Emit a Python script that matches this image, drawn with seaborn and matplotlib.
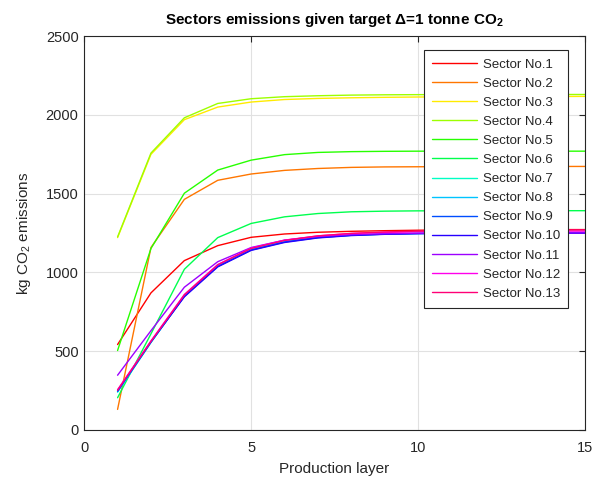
import colorsys
import numpy as np
import pandas as pd
import matplotlib
matplotlib.use("Agg")
import matplotlib.pyplot as plt
import seaborn as sns

layers = list(range(1, 16))
sector_names = [f"Sector No.{i}" for i in range(1, 14)]

s1 = [542, 870, 1075, 1170, 1223, 1244, 1255, 1261, 1265, 1268, 1270, 1271, 1272, 1272, 1272]
s2 = [130, 1158, 1464, 1585, 1625, 1648, 1660, 1667, 1670, 1671, 1672, 1672, 1673, 1673, 1673]
s3 = [1221, 1750, 1970, 2050, 2082, 2098, 2105, 2109, 2112, 2114, 2115, 2116, 2117, 2117, 2118]
s4 = [1225, 1758, 1982, 2073, 2103, 2116, 2122, 2126, 2128, 2129, 2129, 2130, 2130, 2130, 2130]
s5 = [504, 1152, 1503, 1650, 1713, 1748, 1762, 1767, 1769, 1770, 1770, 1770, 1770, 1770, 1770]
s6 = [204, 610, 1020, 1221, 1311, 1353, 1374, 1385, 1389, 1391, 1391, 1392, 1392, 1392, 1392]
s7 = [240, 555, 850, 1040, 1145, 1195, 1222, 1236, 1243, 1247, 1249, 1250, 1251, 1251, 1251]
s8 = [242, 557, 852, 1042, 1147, 1197, 1224, 1238, 1245, 1249, 1251, 1252, 1253, 1253, 1253]
s9 = [245, 558, 848, 1038, 1142, 1193, 1221, 1236, 1243, 1247, 1249, 1250, 1250, 1250, 1250]
s10 = [250, 560, 845, 1035, 1140, 1190, 1219, 1234, 1242, 1246, 1248, 1249, 1249, 1249, 1249]
s11 = [347, 630, 906, 1068, 1158, 1205, 1228, 1240, 1246, 1249, 1250, 1251, 1251, 1251, 1251]
s12 = [255, 565, 860, 1050, 1155, 1205, 1232, 1247, 1254, 1258, 1260, 1261, 1262, 1262, 1262]
s13 = [252, 562, 857, 1048, 1152, 1203, 1232, 1248, 1257, 1262, 1265, 1267, 1268, 1269, 1270]

series = [s1, s2, s3, s4, s5, s6, s7, s8, s9, s10, s11, s12, s13]

rows = []
for name, vals in zip(sector_names, series):
    for x, v in zip(layers, vals):
        rows.append({"Production layer": x, "value": v, "Sector": name})
df = pd.DataFrame(rows)

palette = [colorsys.hsv_to_rgb(i / 13, 1, 1) for i in range(13)]

sns.set_style("white")
plt.rcParams["font.family"] = ["Liberation Sans", "DejaVu Sans"]
plt.rcParams["mathtext.default"] = "regular"

dark = "#262626"
fig = plt.figure(figsize=(5.97, 4.83), dpi=100)
ax = fig.add_axes([0.141, 0.110, 0.839, 0.815])

sns.lineplot(data=df, x="Production layer", y="value", hue="Sector",
             palette=palette, hue_order=sector_names, linewidth=1.0, ax=ax)

ax.set_xlim(0, 15)
ax.set_ylim(0, 2500)
ax.set_xticks([0, 5, 10, 15])
ax.set_yticks([0, 500, 1000, 1500, 2000, 2500])
ax.grid(True, color="#e1e1e1", linewidth=0.8)
ax.set_axisbelow(True)
for sp in ax.spines.values():
    sp.set_color(dark)
    sp.set_linewidth(0.8)
    sp.set_visible(True)
ax.tick_params(direction="in", length=4, width=0.8, colors=dark,
               labelsize=10.5, top=True, right=True, labelcolor=dark)
ax.tick_params(axis="x", pad=8)
ax.tick_params(axis="y", pad=4)

ax.set_xlabel("Production layer", fontsize=11, color=dark, labelpad=5)
ax.set_ylabel("kg CO$_2$ emissions", fontsize=11, color=dark, labelpad=9)
ax.set_title("Sectors emissions given target \u0394=1 tonne CO$_2$",
             fontsize=11, fontweight="bold", color="black", pad=9)

handles, labels = ax.get_legend_handles_labels()
leg = ax.legend(handles, labels, loc="upper right", bbox_to_anchor=(0.966, 0.964),
                borderaxespad=0, frameon=True, fancybox=False, framealpha=1,
                edgecolor=dark, fontsize=9.5, handlelength=3.4, handletextpad=0.45,
                labelspacing=0.52, borderpad=0.6)
leg.get_frame().set_linewidth(0.8)
for t in leg.get_texts():
    t.set_color(dark)

fig.savefig("out.png", dpi=100)
